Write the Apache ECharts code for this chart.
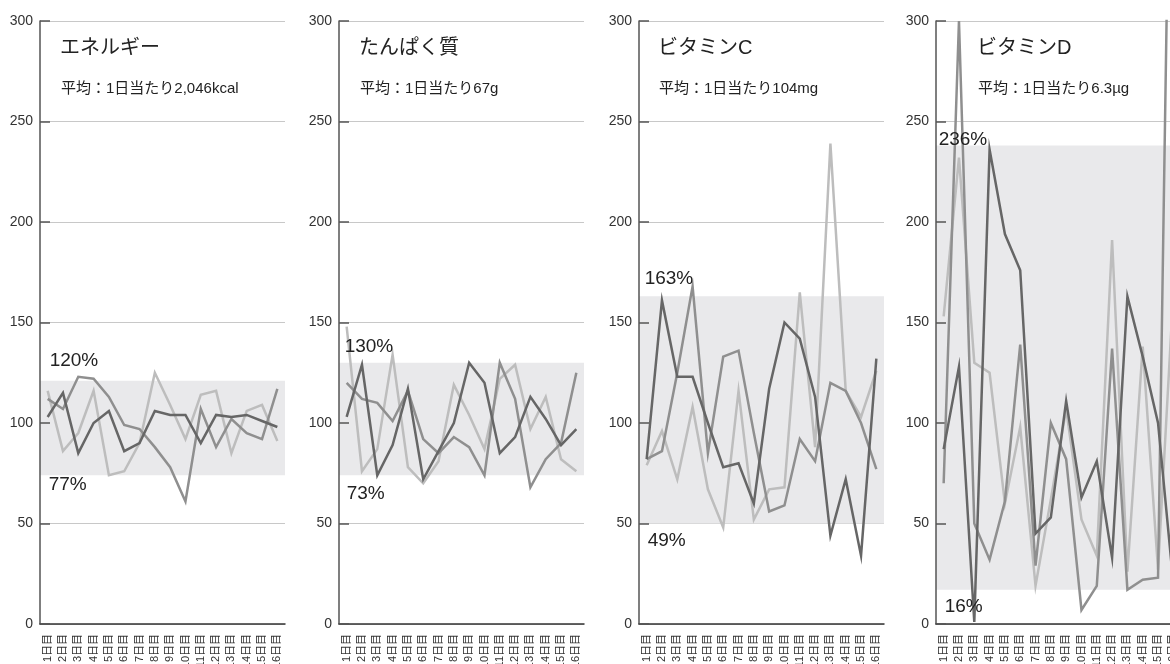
<!DOCTYPE html>
<html><head><meta charset="utf-8">
<script src="https://cdn.jsdelivr.net/npm/echarts@6/dist/echarts.min.js"></script>
<style>html,body{margin:0;padding:0;background:#fff}#c{width:1170px;height:664px}</style>
</head><body><div id="c"></div>
<script>
// ---- data ----
const categories = ['1日目','2日目','3日目','4日目','5日目','6日目','7日目','8日目','9日目','10日目','11日目','12日目','13日目','14日目','15日目','16日目'];
const panelTitles = ['エネルギー','たんぱく質','ビタミンC','ビタミンD'];
const panelSubtitles = ['平均：1日当たり2,046kcal','平均：1日当たり67g','平均：1日当たり104mg','平均：1日当たり6.3µg'];
const bandLow = [74, 74, 50, 17];
const bandHigh = [121, 130, 163, 238];
const labelHigh = [120, 130, 163, 236];
const labelLow = [77, 73, 49, 16];

const energyDark  = [103,115,85,100,106,86,90,106,104,104,90,104,103,104,101,98];
const energyMid   = [112,107,123,122,113,99,97,88,78,61,107,88,102,95,92,117];
const energyLight = [116,86,95,116,74,76,90,125,109,92,114,116,85,106,109,91];

const proteinDark  = [103,129,74,89,117,72,86,100,130,120,85,93,113,102,89,97];
const proteinMid   = [120,112,110,101,116,92,85,93,88,74,130,112,68,82,90,125];
const proteinLight = [148,76,87,134,78,70,81,119,104,87,122,129,97,113,82,76];

const vitCDark  = [82,161,123,123,100,78,80,60,117,150,142,113,44,72,34,132];
const vitCMid   = [82,86,125,168,85,133,136,95,56,59,92,81,120,116,100,77];
const vitCLight = [79,96,72,108,67,48,116,52,67,68,165,88,239,116,103,126];

const vitDDark  = [87,128,1,236,194,176,45,53,111,63,81,33,163,133,100,20];
const vitDMid   = [70,300,50,32,61,139,29,100,82,7,19,137,17,22,23,520];
const vitDLight = [153,232,130,125,60,98,19,62,107,52,34,191,26,138,27,165];

const panelSeries = [
  [energyLight, energyMid, energyDark],
  [proteinLight, proteinMid, proteinDark],
  [vitCLight, vitCMid, vitCDark],
  [vitDLight, vitDMid, vitDDark]
];

// ---- style / layout ----
const FONT = "'Liberation Sans','Noto Sans CJK JP',sans-serif";
const lineColors = ['#bdbdbd', '#8f8f8f', '#666666'];
const gridLeft = [40, 339, 639, 936];
const gridTop = 21, gridHeight = 603, gridWidth = 245;
const titleDx = [20, 20, 19, 41];
const topLabelOffset = [[2,-22],[-2,-16],[-2,-18],[-5,-10]];
const lowLabelOffset = [[1,16],[0,16],[1,15],[1,15]];

const grids = [], xAxes = [], yAxes = [], series = [], graphics = [];
for (let k = 0; k < 4; k++) {
  grids.push({left: gridLeft[k], top: gridTop, width: gridWidth, height: gridHeight,
    containLabel: false, outerBoundsMode: 'none'});
  xAxes.push({
    type: 'category', gridIndex: k, data: categories, boundaryGap: true, z: 1,
    axisLine: {show: true, lineStyle: {color: '#333', width: 1.5}},
    axisTick: {show: false},
    axisLabel: {rotate: 90, interval: 0, fontSize: 11, margin: 10, color: '#333', fontFamily: FONT, hideOverlap: false}
  });
  yAxes.push({
    type: 'value', gridIndex: k, min: 0, max: 300, interval: 50, z: 1,
    axisLine: {show: true, lineStyle: {color: '#555', width: 1.5}},
    axisTick: {show: true, inside: true, length: 10, lineStyle: {color: '#555', width: 1.5}},
    axisLabel: {fontSize: 14, color: '#333', margin: 7, fontFamily: FONT},
    splitLine: {show: true, lineStyle: {color: '#c8c8c8', width: 1}}
  });
  // band + labels holder
  series.push({
    type: 'line', xAxisIndex: k, yAxisIndex: k, data: [], z: 0, silent: true,
    markArea: {silent: true, itemStyle: {color: '#e9e9eb'},
      data: [[{yAxis: bandLow[k]}, {yAxis: bandHigh[k]}]]},
    markPoint: {silent: true, symbol: 'circle', symbolSize: 0,
      label: {show: true, position: 'right', distance: 0, formatter: '{b}',
        fontSize: 19, color: '#222', fontFamily: FONT},
      data: [
        {name: labelHigh[k] + '%', coord: [categories[0], labelHigh[k]], label: {offset: topLabelOffset[k]}},
        {name: labelLow[k] + '%', coord: [categories[0], labelLow[k]], label: {offset: lowLabelOffset[k]}}
      ]}
  });
  panelSeries[k].forEach((d, j) => {
    series.push({
      type: 'line', xAxisIndex: k, yAxisIndex: k, data: d, z: 2 + j * 0.1,
      showSymbol: false, symbol: 'none', silent: true, clip: true,
      lineStyle: {color: lineColors[j], width: 2.5, join: 'miter'}
    });
  });
  graphics.push({type: 'text', left: gridLeft[k] + titleDx[k], top: 38,
    style: {text: panelTitles[k], font: "20px " + FONT, fill: '#222'}});
  graphics.push({type: 'text', left: gridLeft[k] + titleDx[k] + 1, top: 81,
    style: {text: panelSubtitles[k], font: "15px " + FONT, fill: '#222'}});
}

const chart = echarts.init(document.getElementById('c'), null, {renderer: 'canvas'});
chart.setOption({
  animation: false,
  backgroundColor: '#fff',
  grid: grids, xAxis: xAxes, yAxis: yAxes, series: series, graphic: graphics
});
</script></body></html>
